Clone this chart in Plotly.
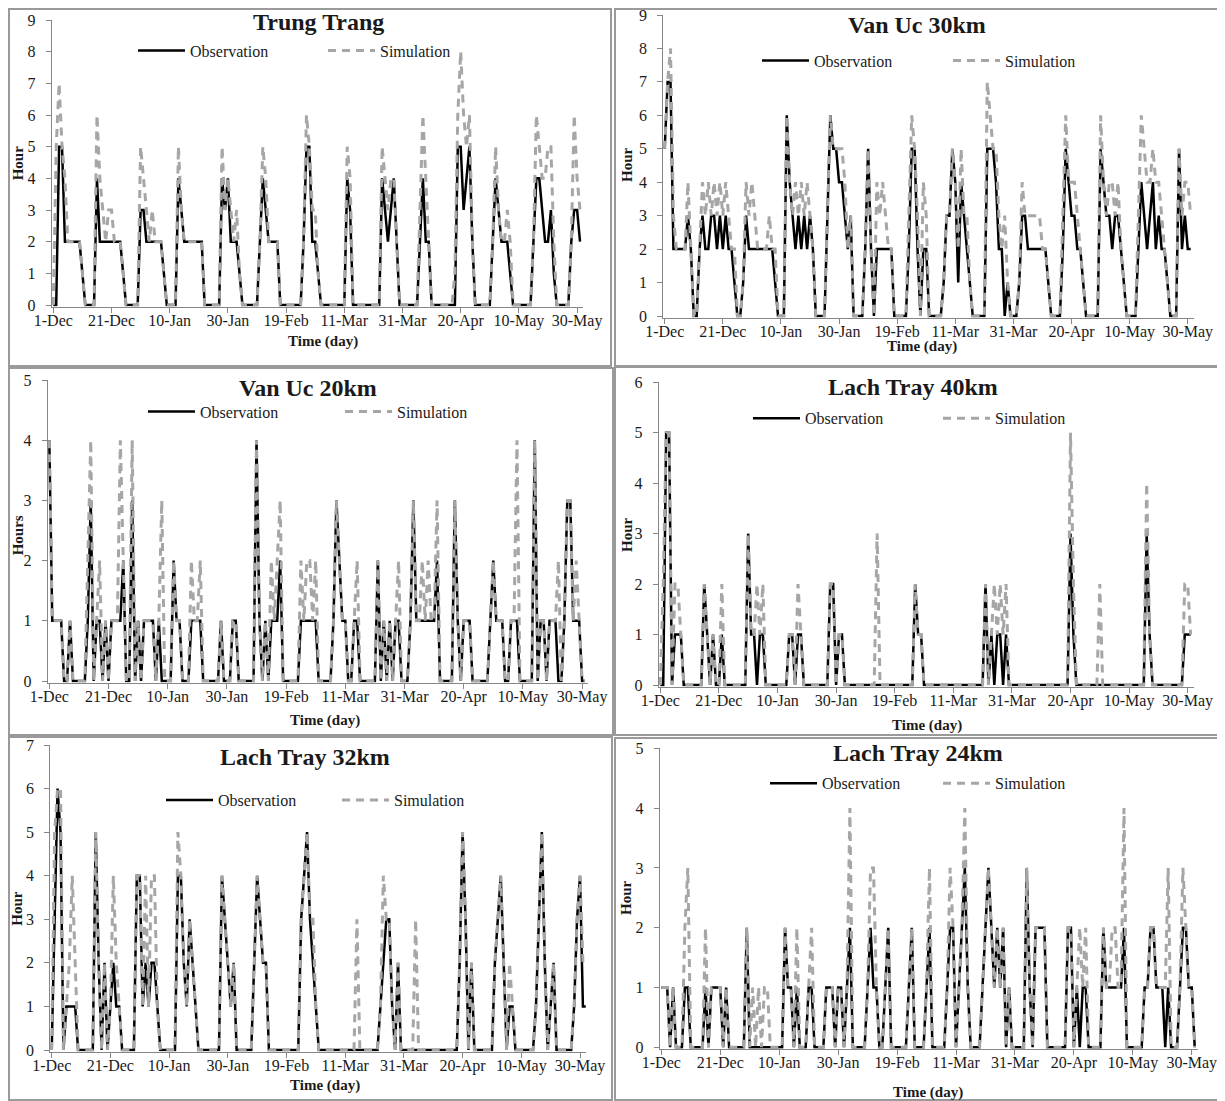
import plotly.graph_objects as go

# ---------------- data ----------------
tick_days = [0, 20, 40, 60, 80, 100, 120, 140, 160, 180]
tick_labels = ["1-Dec", "21-Dec", "10-Jan", "30-Jan", "19-Feb",
               "11-Mar", "31-Mar", "20-Apr", "10-May", "30-May"]
station_names = ["Trung Trang", "Van Uc 30km", "Van Uc 20km",
                 "Lach Tray 40km", "Lach Tray 32km", "Lach Tray 24km"]
y_titles = ["Hour", "Hour", "Hours", "Hour", "Hour", "Hour"]
y_max = [9, 9, 5, 6, 7, 5]
series_names = ["Observation", "Simulation"]

obs_trung_trang = [0,0,5,5,2,2,2,2,2,2, 1,0,0,0,0,4,2,2,2,2, 2,2,2,2,1,0,0,0,0,0,
                   3,3,2,2,2,2,2,2,1,0, 0,0,0,4,3,2,2,2,2,2, 2,2,0,0,0,0,0,0,4,3,
                   4,2,2,2,1,0,0,0,0,0, 0,2,4,3,2,2,2,2,0,0, 0,0,0,0,0,0,2,5,5,2,
                   2,1,0,0,0,0,0,0,0,0, 0,4,3,0,0,0,0,0,0,0, 0,0,0,4,3,2,3,4,2,0,
                   0,0,0,0,0,0,2,4,2,2, 0,0,0,0,0,0,0,0,0,5, 5,3,4,5,2,0,0,0,0,0,
                   0,2,4,3,2,2,2,1,0,0, 0,0,0,0,0,2,4,4,3,2, 2,3,1,0,0,0,0,0,2,3,
                   3,2]
sim_trung_trang = [0,5,7,5,4,2,2,2,2,2, 1,0,0,0,0,6,4,3,2,3, 3,2,2,2,1,0,0,0,0,0,
                   5,4,3,2,3,2,2,2,1,0, 0,0,0,5,3,2,2,2,2,2, 2,2,0,0,0,0,0,0,5,3,
                   4,3,2,3,1,0,0,0,0,0, 0,2,5,4,2,2,2,2,0,0, 0,0,0,0,0,0,2,6,5,3,
                   3,1,0,0,0,0,0,0,0,0, 0,5,4,0,0,0,0,0,0,0, 0,0,0,5,4,3,4,4,2,0,
                   0,0,0,0,0,0,3,6,4,2, 0,0,0,0,0,0,0,0,1,6, 8,6,5,6,2,0,0,0,0,0,
                   0,2,5,3,2,2,3,2,0,0, 0,0,0,0,0,2,6,5,4,4, 5,5,2,0,0,0,0,0,2,6,
                   4,3]

obs_van_uc_30 = [5,7,7,2,2,2,2,2,3,2, 0,0,2,3,2,2,3,3,2,3, 2,3,2,2,1,0,0,1,3,2,
                 2,2,2,2,2,2,2,2,1,0, 0,0,6,4,3,2,3,2,3,2, 3,2,0,0,0,0,3,6,5,5,
                 4,4,3,2,3,0,0,0,0,2, 5,2,0,2,2,2,2,2,2,0, 0,0,0,0,2,5,5,2,0,2,
                 2,0,0,0,0,0,1,3,3,5, 4,1,4,3,2,1,0,0,0,0, 0,5,5,5,4,2,2,0,1,0,
                 0,0,1,3,3,2,2,2,2,2, 2,2,1,0,0,0,0,2,5,4, 3,3,2,2,1,0,0,0,0,0,
                 5,4,3,3,2,3,3,2,1,0, 0,0,0,2,4,3,2,3,4,2, 3,2,2,1,0,0,0,5,2,3,
                 2,2]
sim_van_uc_30 = [5,7,8,3,2,2,2,2,4,2, 0,0,2,4,3,4,3,4,3,4, 3,4,3,2,2,0,0,1,4,3,
                 4,3,2,2,2,2,3,2,2,0, 0,0,6,4,3,4,3,4,3,4, 3,2,0,0,0,0,3,6,5,5,
                 5,5,4,2,3,0,0,0,0,2, 5,2,0,4,3,4,3,2,2,0, 0,0,0,0,3,6,5,3,0,4,
                 3,0,0,0,0,0,1,3,3,5, 4,2,5,3,3,1,0,0,0,0, 0,7,6,5,5,3,2,3,1,0,
                 0,0,1,4,3,3,3,3,3,3, 2,2,1,0,0,0,0,3,6,4, 4,4,3,2,1,0,0,0,0,0,
                 6,4,3,4,4,3,4,2,1,0, 0,0,0,3,6,5,4,4,5,4, 4,3,2,1,0,0,0,5,3,4,
                 4,3]

obs_van_uc_20 = [4,1,1,1,1,0,0,1,0,0, 0,0,0,1,3,0,1,1,0,1, 0,1,1,1,1,2,0,0,3,0,
                 1,0,1,1,1,1,0,1,0,0, 0,0,2,1,1,0,0,0,1,1, 1,1,0,0,0,0,0,0,1,0,
                 0,0,1,1,0,0,0,0,0,0, 4,1,0,1,0,1,1,1,2,0, 0,0,0,0,0,1,1,1,1,1,
                 1,0,0,0,0,0,1,3,2,1, 1,0,0,1,1,0,0,0,0,0, 0,2,0,1,0,1,0,1,1,0,
                 0,0,1,3,1,1,1,1,1,1, 1,2,0,0,0,0,0,3,1,0, 1,1,1,0,0,0,0,0,0,1,
                 2,1,1,1,0,0,1,1,1,0, 0,0,0,0,4,0,1,1,0,1, 1,1,0,0,1,3,3,1,1,1,
                 0,0]
sim_van_uc_20 = [4,1,1,1,1,0,0,1,0,0, 0,0,0,2,4,0,1,2,0,1, 0,1,1,1,4,2,0,0,4,0,
                 1,0,1,1,1,1,0,1,3,0, 0,0,2,1,1,0,0,0,2,1, 1,2,0,0,0,0,0,0,1,0,
                 0,0,1,1,0,0,0,0,0,0, 4,1,0,1,0,2,1,2,3,0, 0,0,0,0,0,2,1,2,2,1,
                 2,0,0,0,0,0,1,3,2,1, 1,0,0,1,2,0,0,0,0,0, 0,2,0,1,0,1,0,1,2,0,
                 0,0,1,3,1,1,2,1,2,1, 1,3,0,0,0,0,0,3,1,0, 1,1,1,0,0,0,0,0,0,1,
                 2,1,1,1,0,0,1,1,4,0, 0,0,0,0,4,0,1,1,0,1, 1,1,2,0,1,3,3,1,2,1,
                 0,0]

obs_lach_tray_40 = [0,0,5,5,0,1,1,1,0,0, 0,0,0,0,0,2,1,0,1,0, 0,1,0,0,0,0,0,0,0,0,
                    3,1,1,0,1,1,0,0,0,0, 0,0,0,0,1,1,0,1,1,0, 0,0,0,0,0,0,0,0,2,2,
                    0,1,1,0,0,0,0,0,0,0, 0,0,0,0,0,0,0,0,0,0, 0,0,0,0,0,0,0,2,1,1,
                    0,0,0,0,0,0,0,0,0,0, 0,0,0,0,0,0,0,0,0,0, 0,2,0,1,0,1,1,0,1,0,
                    0,0,0,0,0,0,0,0,0,0, 0,0,0,0,0,0,0,0,0,0, 3,1,0,0,0,0,0,0,0,0,
                    0,0,0,0,0,0,0,0,0,0, 0,0,0,0,0,0,3,1,0,0, 0,0,0,0,0,0,0,0,0,1,
                    1,1]
sim_lach_tray_40 = [0,2,5,5,0,2,2,1,0,0, 0,0,0,0,0,2,1,0,1,0, 0,2,0,0,0,0,0,0,0,0,
                    3,1,1,2,1,2,0,0,0,0, 0,0,0,0,1,1,0,2,1,0, 0,0,0,0,0,0,0,0,2,2,
                    0,1,1,0,0,0,0,0,0,0, 0,0,0,0,3,0,0,0,0,0, 0,0,0,0,0,0,0,2,1,1,
                    0,0,0,0,0,0,0,0,0,0, 0,0,0,0,0,0,0,0,0,0, 0,2,0,1,2,1,2,1,2,0,
                    0,0,0,0,0,0,0,0,0,0, 0,0,0,0,0,0,0,0,0,0, 5,2,0,0,0,0,0,0,0,0,
                    2,0,0,0,0,0,0,0,0,0, 0,0,0,0,0,0,4,1,0,0, 0,0,0,0,0,0,0,0,0,2,
                    2,1]

obs_lach_tray_32 = [0,3,6,5,0,1,1,1,1,0, 0,0,0,0,0,5,2,0,2,0, 1,2,1,1,0,0,0,0,0,4,
                    4,1,2,1,2,2,1,0,0,0, 0,0,0,4,4,2,1,3,2,1, 0,0,0,0,0,0,0,0,4,3,
                    2,1,2,0,0,0,0,0,0,2, 4,3,2,2,0,0,0,0,0,0, 0,0,0,0,0,3,4,5,3,2,
                    1,0,0,0,0,0,0,0,0,0, 0,0,0,0,0,0,0,0,0,0, 0,0,1,2,3,3,1,0,2,0,
                    0,0,0,0,0,0,0,0,0,0, 0,0,0,0,0,0,0,0,0,2, 5,3,0,2,0,0,0,0,0,0,
                    0,2,3,4,2,0,1,1,0,0, 0,0,0,0,0,1,3,5,2,0, 1,2,0,0,0,0,0,0,1,3,
                    4,1,1]
sim_lach_tray_32 = [0,5,6,6,0,1,2,4,2,0, 0,0,0,0,0,5,2,0,2,0, 1,4,2,1,0,0,0,0,0,4,
                    4,1,4,1,4,4,1,0,0,0, 0,0,0,5,4,2,1,3,2,1, 0,0,0,0,0,0,0,0,4,3,
                    2,1,2,0,0,0,0,0,0,2, 4,3,2,2,0,0,0,0,0,0, 0,0,0,0,0,3,4,5,3,3,
                    1,0,0,0,0,0,0,0,0,0, 0,0,0,0,3,0,0,0,0,0, 0,0,1,4,3,3,1,0,2,0,
                    0,0,0,0,3,0,0,0,0,0, 0,0,0,0,0,0,0,0,0,2, 5,3,0,2,0,0,0,0,0,0,
                    0,2,3,4,2,0,2,1,0,0, 0,0,0,0,0,1,3,5,2,0, 1,2,0,0,0,0,0,0,1,3,
                    4,2,2]

obs_lach_tray_24 = [1,1,1,0,1,0,0,0,1,1, 0,0,0,0,0,1,0,1,1,1, 1,0,1,0,0,0,0,0,0,2,
                    0,0,0,0,0,0,0,0,0,0, 0,0,2,1,1,0,1,0,0,0, 1,1,0,0,0,0,1,1,1,0,
                    1,1,0,1,2,0,0,0,0,0, 1,2,1,1,0,0,1,2,0,0, 0,0,0,0,1,2,0,0,0,0,
                    1,2,0,0,0,0,0,1,2,2, 0,1,2,3,1,0,0,0,0,1, 2,3,2,1,2,1,2,0,1,0,
                    0,0,0,0,3,1,0,2,2,2, 2,0,0,0,0,0,0,0,2,2, 0,1,0,1,1,0,0,0,0,0,
                    2,1,1,1,1,1,1,2,0,0, 0,0,0,0,1,1,2,2,1,1, 1,0,1,0,0,0,1,2,2,1,
                    1,0]
sim_lach_tray_24 = [1,1,1,0,1,0,0,0,2,3, 0,0,0,0,0,2,0,1,1,1, 1,0,1,0,0,0,0,0,0,2,
                    0,1,0,1,0,1,1,0,0,0, 0,0,2,1,1,0,2,0,0,0, 1,2,0,0,0,0,1,1,1,0,
                    1,1,0,1,4,0,0,0,0,0, 1,3,3,1,0,0,1,2,0,0, 0,0,0,0,1,2,0,0,0,0,
                    1,3,0,0,0,0,0,1,3,2, 0,1,2,4,1,0,0,0,0,1, 2,3,2,1,2,1,2,0,1,0,
                    0,0,0,0,3,1,0,2,2,2, 2,0,0,0,0,0,0,0,2,2, 0,1,2,1,2,0,0,0,0,0,
                    2,1,1,2,2,1,1,4,0,0, 0,0,0,0,1,1,2,2,1,1, 1,1,3,0,0,0,1,3,2,1,
                    1,0]

observations = [obs_trung_trang, obs_van_uc_30, obs_van_uc_20,
                obs_lach_tray_40, obs_lach_tray_32, obs_lach_tray_24]
simulations = [sim_trung_trang, sim_van_uc_30, sim_van_uc_20,
               sim_lach_tray_40, sim_lach_tray_32, sim_lach_tray_24]

# ---------------- layout geometry (page pixels) ----------------
OFF = 8                      # default body margin of the html page
FW, FH = 1225 - OFF, 1101 - OFF
FONT = "Liberation Serif, Times New Roman, serif"
AXIS_COLOR = "#868686"
SIM_COLOR = "#a6a6a6"
TEXT_COLOR = "#1a1a1a"
X_END = 182
ITEM_W = 47


def px(t):
    return (t - OFF) / FW


def py(t):
    return 1 - (t - OFF) / FH


geom = [
    dict(x0=53.3, xpd=2.91, y0=305.0, ytop=20.0, box=(7, 4, 611, 366),
         leg=(190, 50.7, 190), title=(318, 21.7), ytitle=(18.3, 163), xtitle=(323, 342)),
    dict(x0=664.7, xpd=2.906, y0=316.0, ytop=15.0, box=(615, 2, 1220, 366),
         leg=(814, 60.7, 191), title=(917, 25.0), ytitle=(627, 165), xtitle=(922, 347)),
    dict(x0=49.3, xpd=2.96, y0=681.0, ytop=380.0, box=(5, 368, 613, 735),
         leg=(200, 411.7, 197), title=(308, 387.7), ytitle=(18.3, 535), xtitle=(325, 720)),
    dict(x0=660.3, xpd=2.93, y0=685.0, ytop=382.3, box=(615, 367, 1219, 735),
         leg=(805, 418.3, 190), title=(913, 386.7), ytitle=(627, 535), xtitle=(927, 725)),
    dict(x0=51.7, xpd=2.935, y0=1050.0, ytop=745.0, box=(5, 737, 612, 1100),
         leg=(218, 800, 176), title=(305, 756.7), ytitle=(16.7, 908), xtitle=(325, 1085)),
    dict(x0=661.3, xpd=2.947, y0=1047.3, ytop=748.3, box=(615, 738, 1221, 1100),
         leg=(822, 783.3, 173), title=(918, 753.3), ytitle=(625.3, 897.7), xtitle=(928, 1092)),
]

PAD = 1.5  # px so zero-level lines are not clipped

fig = go.Figure()
layout = dict(
    width=FW, height=FH,
    margin=dict(l=0, r=0, t=0, b=0, pad=0, autoexpand=False),
    paper_bgcolor="white", plot_bgcolor="white",
    font=dict(family=FONT, color=TEXT_COLOR),
    shapes=[], annotations=[],
)

for i, g in enumerate(geom):
    k = "" if i == 0 else str(i + 1)
    xa, ya = "x" + k, "y" + k
    leg_name = "legend" + k

    obs = observations[i]
    sim = simulations[i]
    fig.add_trace(go.Scatter(
        x=list(range(len(obs))), y=obs, mode="lines", name=series_names[0],
        line=dict(color="black", width=2.5), xaxis=xa, yaxis=ya, legend=leg_name,
        hoverinfo="skip"))
    fig.add_trace(go.Scatter(
        x=list(range(len(sim))), y=sim, mode="lines", name=series_names[1],
        line=dict(color=SIM_COLOR, width=3, dash="8px,6px"), xaxis=xa, yaxis=ya,
        legend=leg_name, hoverinfo="skip"))

    ypu = (g["y0"] - g["ytop"]) / y_max[i]
    layout["xaxis" + k] = dict(
        domain=[px(g["x0"] - PAD), px(g["x0"] + X_END * g["xpd"])],
        range=[-PAD / g["xpd"], X_END], anchor=ya, automargin=False,
        tickmode="array", tickvals=tick_days, ticktext=tick_labels,
        showline=True, linecolor=AXIS_COLOR, linewidth=1,
        ticks="outside", ticklen=5, tickcolor=AXIS_COLOR, tickwidth=1,
        ticklabelstandoff=-6, ticklabeloverflow="allow",
        showgrid=False, zeroline=False,
        tickfont=dict(family=FONT, size=16, color=TEXT_COLOR),
    )
    layout["yaxis" + k] = dict(
        domain=[py(g["y0"] + PAD), py(g["ytop"])],
        range=[-PAD / ypu, y_max[i]], anchor=xa, automargin=False,
        tickmode="linear", tick0=0, dtick=1,
        showline=True, linecolor=AXIS_COLOR, linewidth=1,
        ticks="outside", ticklen=5, tickcolor=AXIS_COLOR, tickwidth=1,
        ticklabelstandoff=7, ticklabeloverflow="allow",
        showgrid=False, zeroline=False,
        tickfont=dict(family=FONT, size=16, color=TEXT_COLOR),
    )

    lx, ly, gap = g["leg"]
    layout[leg_name] = dict(
        orientation="h", x=px(lx - (ITEM_W + 10)), xanchor="left",
        y=py(ly), yanchor="middle",
        bgcolor="rgba(0,0,0,0)", borderwidth=0, itemwidth=ITEM_W,
        entrywidth=gap - (ITEM_W + 10) - 5, entrywidthmode="pixels",
        font=dict(family=FONT, size=16, color=TEXT_COLOR),
        itemclick=False, itemdoubleclick=False,
    )

    bx0, by0, bx1, by1 = g["box"]
    bx0, by0 = max(bx0, OFF + 1), max(by0, OFF + 1)
    layout["shapes"].append(dict(
        type="rect", xref="paper", yref="paper",
        x0=px(bx0), x1=px(bx1), y0=py(by1), y1=py(by0),
        line=dict(color="#9a9a9a", width=2), layer="below"))

    tx, ty = g["title"]
    layout["annotations"].append(dict(
        text="<b>" + station_names[i] + "</b>", xref="paper", yref="paper",
        x=px(tx), y=py(ty), xanchor="center", yanchor="middle",
        showarrow=False, font=dict(family=FONT, size=24, color=TEXT_COLOR)))
    yx, yy = g["ytitle"]
    layout["annotations"].append(dict(
        text="<b>" + y_titles[i] + "</b>", xref="paper", yref="paper",
        x=px(yx), y=py(yy), xanchor="center", yanchor="middle", textangle=-90,
        showarrow=False, font=dict(family=FONT, size=15, color=TEXT_COLOR)))
    xx, xy = g["xtitle"]
    layout["annotations"].append(dict(
        text="<b>Time (day)</b>", xref="paper", yref="paper",
        x=px(xx), y=py(xy), xanchor="center", yanchor="middle",
        showarrow=False, font=dict(family=FONT, size=15, color=TEXT_COLOR)))

fig.update_layout(**layout)
fig.write_html("out.html")
